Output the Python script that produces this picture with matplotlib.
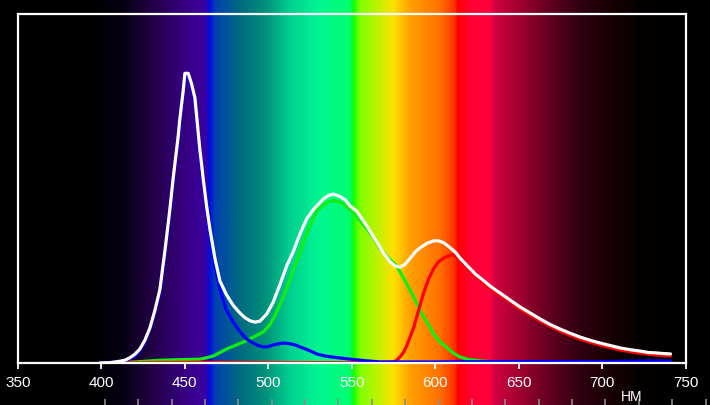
import numpy as np
import matplotlib.pyplot as plt

# spectrum of a white LED: total (white) and the blue/green/red components
white_nm = [399, 405, 411, 414, 417, 420, 423, 426, 429, 432, 435, 438, 441, 443, 446, 447, 449, 450, 452, 454,
            456, 457, 459, 460, 461, 463, 465, 468, 471, 475, 479, 483, 486, 489, 492, 495, 499, 503, 507, 511,
            515, 519, 523, 527, 533, 536, 539, 543, 546, 549, 553, 559, 562, 565, 569, 573, 576, 579, 582, 585,
            588, 591, 595, 599, 602, 605, 609, 612, 615, 620, 624, 628, 633, 639, 645, 651, 657, 663, 669, 675,
            681, 687, 693, 699, 705, 711, 717, 723, 728, 732, 737, 741]
white_val = [0.0, 0.001, 0.005, 0.008, 0.015, 0.025, 0.04, 0.065, 0.1, 0.15, 0.21, 0.32, 0.44, 0.53, 0.65, 0.70,
             0.78, 0.83, 0.83, 0.8, 0.76, 0.71, 0.61, 0.57, 0.527, 0.45, 0.384, 0.3, 0.235, 0.195, 0.165, 0.143,
             0.13, 0.121, 0.117, 0.12, 0.14, 0.175, 0.225, 0.278, 0.32, 0.37, 0.413, 0.44, 0.47, 0.48, 0.484,
             0.477, 0.468, 0.45, 0.435, 0.393, 0.37, 0.347, 0.315, 0.29, 0.278, 0.275, 0.283, 0.30, 0.318, 0.33,
             0.343, 0.35, 0.35, 0.345, 0.33, 0.318, 0.30, 0.275, 0.255, 0.24, 0.22, 0.2, 0.18, 0.16, 0.143, 0.126,
             0.11, 0.097, 0.085, 0.074, 0.065, 0.057, 0.05, 0.043, 0.038, 0.034, 0.03, 0.029, 0.027, 0.026]

blue_nm = [399, 405, 411, 414, 417, 420, 423, 426, 429, 432, 435, 438, 441, 443, 446, 447, 449, 450, 452, 454,
           456, 457, 459, 461, 463, 465, 468, 471, 475, 479, 483, 487, 491, 494, 497, 500, 503, 506, 509, 512,
           516, 519, 524, 529, 534, 540, 549, 557, 567, 600, 650, 700, 735, 741]
blue_val = [0.0, 0.001, 0.004, 0.007, 0.012, 0.02, 0.035, 0.06, 0.095, 0.145, 0.2, 0.31, 0.43, 0.52, 0.64, 0.69,
            0.77, 0.82, 0.82, 0.79, 0.75, 0.7, 0.6, 0.51, 0.44, 0.37, 0.28, 0.21, 0.15, 0.117, 0.09, 0.069, 0.057,
            0.05, 0.046, 0.047, 0.052, 0.055, 0.057, 0.056, 0.052, 0.046, 0.037, 0.026, 0.02, 0.016, 0.011, 0.007,
            0.003, 0.003, 0.004, 0.004, 0.006, 0.005]

green_nm = [400, 420, 435, 450, 459, 463, 467, 471, 475, 480, 485, 491, 497, 501, 505, 509, 513, 516, 519, 522,
            525, 528, 530, 533, 536, 539, 542, 545, 549, 553, 559, 563, 567, 571, 577, 582, 587, 592, 596, 599,
            603, 608, 611, 615, 620, 627, 640, 700, 741]
green_val = [0.0, 0.003, 0.008, 0.01, 0.011, 0.015, 0.02, 0.03, 0.04, 0.05, 0.06, 0.074, 0.089, 0.11, 0.146, 0.19,
             0.24, 0.28, 0.318, 0.36, 0.395, 0.425, 0.44, 0.452, 0.462, 0.465, 0.462, 0.455, 0.44, 0.42, 0.384,
             0.36, 0.328, 0.305, 0.278, 0.235, 0.19, 0.14, 0.11, 0.083, 0.06, 0.04, 0.028, 0.017, 0.01, 0.006,
             0.002, 0.002, 0.004]

red_nm = [400, 450, 500, 550, 575, 577, 579, 581, 583, 585, 587, 590, 593, 596, 599, 602, 605, 607, 610, 613,
          617, 620, 624, 628, 633, 639, 645, 651, 657, 663, 669, 675, 681, 687, 693, 699, 705, 711, 717, 723, 728,
          732, 737, 741]
red_val = [0.0, 0.002, 0.001, 0.001, 0.003, 0.008, 0.018, 0.03, 0.05, 0.075, 0.1, 0.15, 0.2, 0.24, 0.27, 0.29,
           0.30, 0.305, 0.31, 0.305, 0.29, 0.27, 0.249, 0.234, 0.214, 0.194, 0.174, 0.154, 0.137, 0.12, 0.105,
           0.091, 0.079, 0.068, 0.059, 0.051, 0.044, 0.037, 0.032, 0.028, 0.025, 0.023, 0.021, 0.02]

xticks = [350, 400, 450, 500, 550, 600, 650, 700, 750]
strip_ticks = list(range(402, 763, 20))

# colour stops of the rainbow backdrop (nm, hex)
stops = [(339, '#000000'), (393, '#000000'), (411, '#050010'), (429, '#200040'), (447, '#35007a'),
         (462, '#3c00a0'), (465, '#0010e0'), (468, '#0040b0'), (483, '#006a80'), (498, '#00907a'),
         (513, '#00d090'), (531, '#00f890'), (549, '#00ff70'), (551, '#10ff00'), (555, '#80ff00'),
         (567, '#c8f000'), (575, '#ffe000'), (585, '#ffa000'), (603, '#ff7000'), (612, '#ff3000'),
         (613.5, '#ff0000'), (621, '#ff0030'), (633, '#ff0040'), (636, '#d00040'), (651, '#a00030'),
         (669, '#600020'), (687, '#300010'), (705, '#180005'), (723, '#050000'), (741, '#000000'),
         (766, '#000000')]

W, H = 710, 406
px_per_nm = 667.5 / 400
x0_px = 18
nm_left = 350 - x0_px / px_per_nm
nm_right = 350 + (W - x0_px) / px_per_nm

fig = plt.figure(figsize=(W / 100, H / 100), dpi=100, facecolor='black')

# backdrop over the whole figure
bg = fig.add_axes([0, 0, 1, 1], zorder=0)
grid_nm = np.linspace(nm_left, nm_right, W)
s_nm = [s[0] for s in stops]
s_rgb = np.array([[int(c[i:i + 2], 16) / 255 for i in (1, 3, 5)] for _, c in stops])
img = np.stack([np.interp(grid_nm, s_nm, s_rgb[:, k]) for k in range(3)], axis=-1)[None, :, :]
bg.imshow(img, extent=[nm_left, nm_right, 0, 1], aspect='auto')
bg.set_xlim(nm_left, nm_right)
bg.set_ylim(0, 1)
bg.vlines(strip_ticks, 0, 6 / H, color='#8c8c8c', lw=1.2)
bg.axis('off')

ax = fig.add_axes([x0_px / W, 42 / H, 667.5 / W, 349 / H], zorder=1)
ax.patch.set_alpha(0)
kw = dict(lw=2.3, solid_joinstyle='round', solid_capstyle='round')
ax.plot(green_nm, green_val, color='#11ee11', **kw)
ax.plot(red_nm, red_val, color='#ff0000', **kw)
ax.plot(blue_nm, blue_val, color='#0000ff', **kw)
ax.plot(white_nm, white_val, color='white', **kw)

ax.set_xlim(350, 750)
ax.set_ylim(0, 1)
ax.set_xticks(xticks)
ax.set_yticks([])
for sp in ax.spines.values():
    sp.set_color('white')
    sp.set_linewidth(1.6)
ax.tick_params(axis='x', colors='white', length=4, width=1.3, pad=5, labelsize=11)
for lab in ax.get_xticklabels():
    lab.set_fontfamily('Liberation Sans')

fig.text(632 / W, 1 - 397 / H, 'НМ', color='white', fontsize=10, family='Liberation Sans',
         ha='center', va='center')

fig.savefig('out.png', dpi=100, facecolor='black')
